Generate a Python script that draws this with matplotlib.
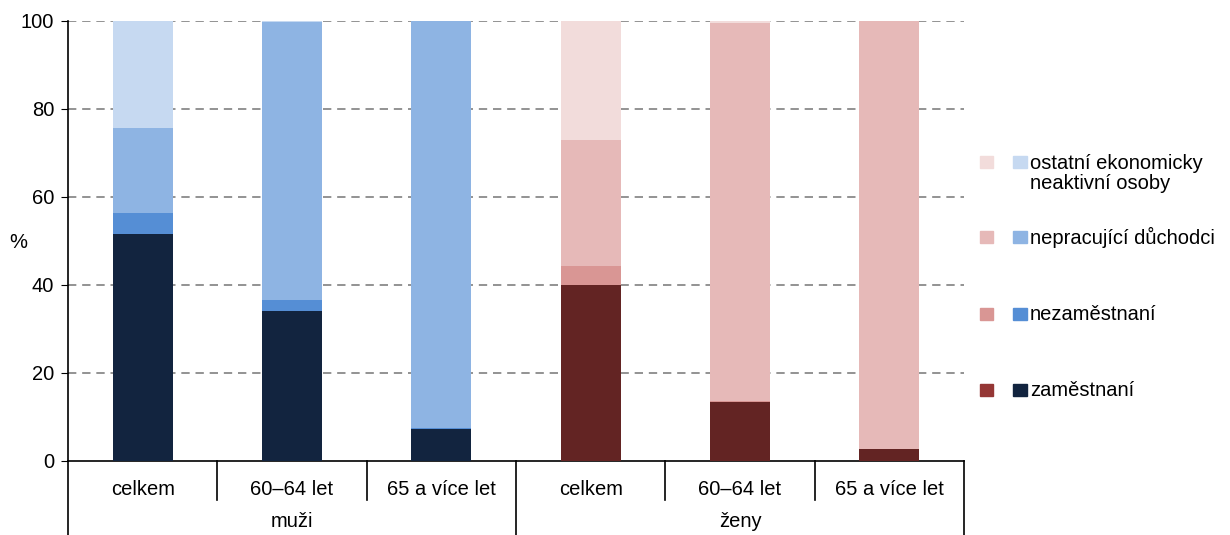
import matplotlib.pyplot as plt
import matplotlib.transforms as mtransforms
from matplotlib.patches import Rectangle
import numpy as np

plt.rcParams['font.family'] = ['Liberation Sans', 'DejaVu Sans']

# data (% of population)
categories = ['celkem', '60–64 let', '65 a více let', 'celkem', '60–64 let', '65 a více let']
groups = ['muži', 'ženy']
zamestnani = [51.7, 34.2, 7.3, 39.9, 13.3, 2.7]
nezamestnani = [4.7, 2.5, 0.1, 4.4, 0.3, 0.1]
neprac_duchodci = [19.3, 63.0, 92.5, 28.7, 85.9, 97.1]
ostatni = [24.3, 0.3, 0.1, 27.0, 0.5, 0.1]
series_names = ['zaměstnaní', 'nezaměstnaní', 'nepracující důchodci', 'ostatní ekonomicky\nneaktivní osoby']

men_colors = ['#12243F', '#558ED5', '#8EB4E3', '#C6D9F1']
women_colors = ['#632423', '#D99694', '#E6B9B8', '#F2DCDB']
legend_women = ['#953735', '#D99694', '#E6B9B8', '#F2DCDB']

FS = 14.5

fig = plt.figure(figsize=(12.3, 5.35), dpi=100)
ax = fig.add_axes([68/1230, 1-461/535, (964-68)/1230, 440/535])

x = np.arange(len(categories))
cols = [men_colors if i < 3 else women_colors for i in range(len(categories))]
bottom = np.zeros(len(categories))
for k, vals in enumerate([zamestnani, nezamestnani, neprac_duchodci, ostatni]):
    ax.bar(x, vals, 0.4, bottom=bottom, color=[c[k] for c in cols], zorder=3)
    bottom += np.array(vals)

ax.set_xlim(-0.5, 5.5)
ax.set_ylim(0, 100)
ax.set_yticks([0, 20, 40, 60, 80, 100])
ax.tick_params(axis='y', labelsize=FS, length=5, direction='out', pad=5)
ax.set_xticks([])
for yv in [20, 40, 60, 80, 100]:
    ax.axhline(yv, color='#808080', lw=1.2, ls=(0, (5, 3.5)), zorder=1)
for s in ['top', 'right']:
    ax.spines[s].set_visible(False)
ax.spines['left'].set_linewidth(1.2)
ax.spines['bottom'].set_linewidth(1.2)
fig.text(18/1230, 1-242/535, '%', fontsize=FS, ha='center', va='center')

# two-level category axis
tr = mtransforms.blended_transform_factory(ax.transData, ax.transAxes)
for d in [0.5, 1.5, 3.5, 4.5]:
    ax.plot([d, d], [0, -0.089], color='black', lw=1.2, transform=tr, clip_on=False)
for d in [-0.5, 2.5, 5.5]:
    ax.plot([d, d], [0, -0.2], color='black', lw=1.2, transform=tr, clip_on=False)
for xi, lab in zip(x, categories):
    ax.text(xi, -0.064, lab, transform=tr, ha='center', va='center', fontsize=FS)
for gi, g in enumerate(groups):
    ax.text(1 + 3*gi, -0.137, g, transform=tr, ha='center', va='center', fontsize=FS)

# legend
ys = [390, 314, 237, 162]
for k in range(4):
    yc = 1 - ys[k]/535
    h = 12/535
    fig.add_artist(Rectangle((980/1230, yc - h/2), 13/1230, h, transform=fig.transFigure,
                             color=legend_women[k]))
    fig.add_artist(Rectangle((1013/1230, yc - h/2), 14/1230, h, transform=fig.transFigure,
                             color=men_colors[k]))
    ty = yc - (11.5/535 if k == 3 else 0)
    fig.text(1030/1230, ty, series_names[k], fontsize=FS,
             ha='left', va='center', linespacing=1.05)

fig.savefig('out.png', dpi=100)
